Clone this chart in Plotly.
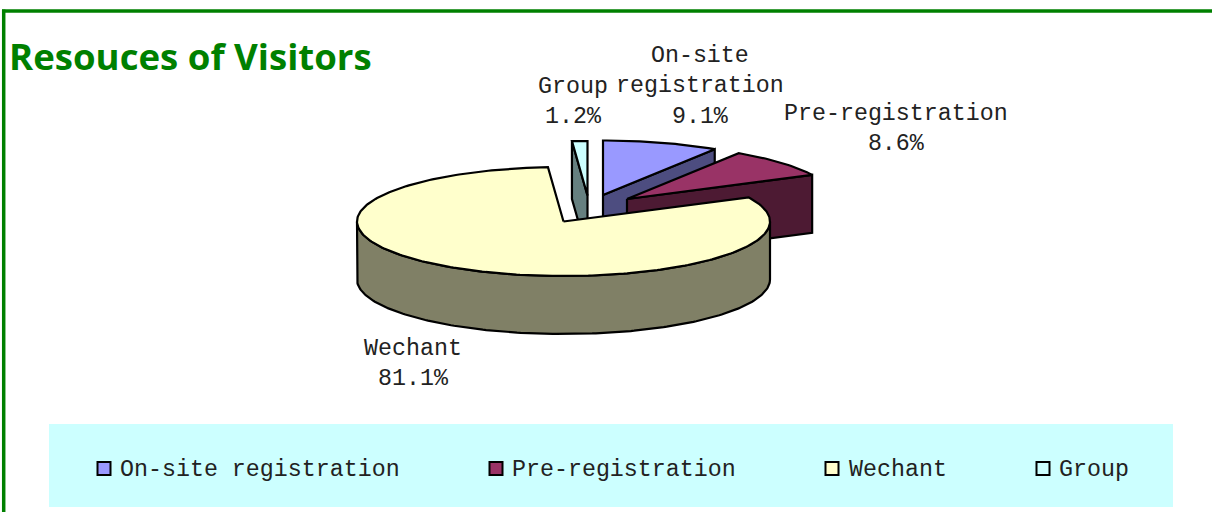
import math
import plotly.graph_objects as go

categories = ["On-site registration", "Pre-registration", "Wechant", "Group"]
values = [9.1, 8.6, 81.1, 1.2]
top_colors = ["#9999FF", "#993366", "#FFFFCC", "#CCFFFF"]
side_colors = ["#4D4D80", "#4D1A33", "#808066", "#668080"]

# pie projection (paper pixels): slice tips after explosion, radii and depth
tips = [(603, 195), (627, 199), (563.5, 221.5), (587.5, 195.5)]
RX, RY, DEPTH = 206.5, 54.5, 58


def pt(tip, deg, dy=0):
    t = math.radians(deg)
    return tip[0] + RX * math.sin(t), tip[1] - RY * math.cos(t) + dy


def arc(tip, a, b, dy=0, step=1.0):
    n = max(2, int(abs(b - a) / step) + 1)
    return [pt(tip, a + (b - a) * i / (n - 1), dy) for i in range(n)]


total = sum(values)
bounds = []
acc = 0.0
for v in values:
    bounds.append((acc / total * 360, (acc + v) / total * 360))
    acc += v

fig = go.Figure()


def poly(points, fill):
    points = list(points) + [points[0]]
    fig.add_trace(go.Scatter(
        x=[p[0] for p in points], y=[p[1] for p in points],
        mode="lines", fill="toself", fillcolor=fill,
        line=dict(color="black", width=2.2), hoverinfo="skip", showlegend=False))


# On-site and Pre-registration: trailing radial wall faces the viewer
for i in (0, 1):
    a, b = bounds[i]
    tip = tips[i]
    e = pt(tip, b)
    poly([tip, e, (e[0], e[1] + DEPTH), (tip[0], tip[1] + DEPTH)], side_colors[i])
    poly([tip] + arc(tip, a, b), top_colors[i])

# Group: leading radial wall faces the viewer
a, b = bounds[3]
tip = tips[3]
s = pt(tip, a)
poly([s, tip, (tip[0], tip[1] + DEPTH), (s[0], s[1] + DEPTH)], side_colors[3])
poly([tip] + arc(tip, a, b), top_colors[3])

# Wechant: rim then top face
a, b = bounds[2]
tip = tips[2]
rim = arc(tip, 90, 270)
poly(rim + arc(tip, 270, 90, DEPTH), side_colors[2])
poly([tip] + arc(tip, a, b), top_colors[2])

# Legend
legend_x = [104, 496, 832, 1043]
legend_text_x = [117.5, 509.5, 846.5, 1056.5]
legend_fill = top_colors
fig.add_trace(go.Scatter(
    x=legend_x, y=[468.5] * 4, mode="markers",
    marker=dict(symbol="square", size=13, color=legend_fill, line=dict(color="black", width=2)),
    hoverinfo="skip", showlegend=False))

LABEL_FONT = dict(family="Liberation Mono", size=23.3, color="#222222")
for name, x in zip(categories, legend_text_x):
    fig.add_annotation(x=x, y=470, text=name, showarrow=False, xanchor="left", yanchor="middle", font=LABEL_FONT)

label_lines = [["On-site", "registration"], ["Pre-registration"], ["Wechant"], ["Group"]]
label_pos = [(700, 86), (895.5, 129), (412.5, 363.5), (573, 102)]
for lines, v, (x, y) in zip(label_lines, values, label_pos):
    text = "<br>".join(lines + [f"{v:.1f}%"])
    fig.add_annotation(x=x, y=y, text=text, showarrow=False, xanchor="center", yanchor="middle", align="center", font=LABEL_FONT)

fig.add_annotation(x=7, y=56, text="<b>Resouces of Visitors</b>", showarrow=False, xanchor="left", yanchor="middle",
                   font=dict(family="Open Sans", size=36.6, color="#008000"))

fig.update_layout(
    width=1212, height=512, margin=dict(l=0, r=0, t=0, b=0),
    paper_bgcolor="white", plot_bgcolor="white", showlegend=False,
    xaxis=dict(range=[0, 1212], visible=False, fixedrange=True),
    yaxis=dict(range=[512, 0], visible=False, fixedrange=True),
    shapes=[
        dict(type="rect", x0=49, x1=1173, y0=424, y1=507, fillcolor="#CCFFFF", line=dict(width=0), layer="below"),
        dict(type="line", x0=2, x1=1212, y0=11, y1=11, line=dict(color="#008000", width=3.5)),
        dict(type="line", x0=3.7, x1=3.7, y0=9.5, y1=512, line=dict(color="#008000", width=3.5)),
    ],
)
fig.write_html("out.html", config={"displayModeBar": False},
               post_script="document.body.style.margin='0';document.body.style.overflow='hidden';")
